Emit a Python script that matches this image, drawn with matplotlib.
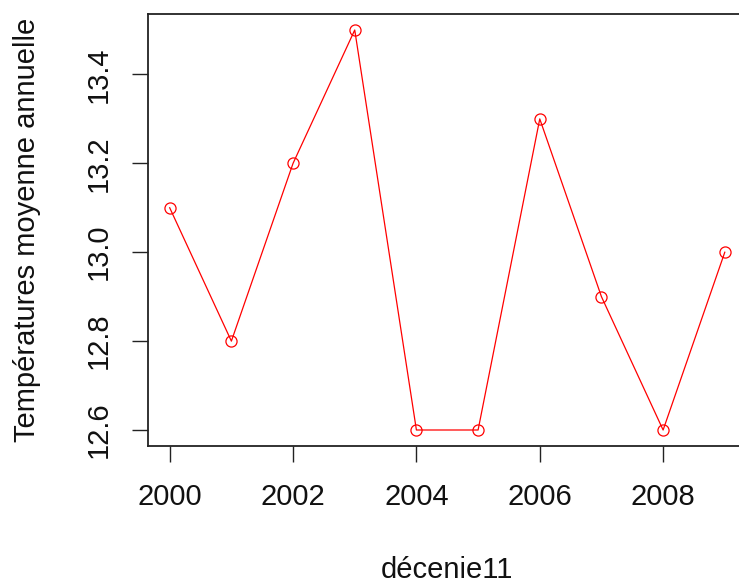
import matplotlib
matplotlib.use("Agg")
import matplotlib.pyplot as plt

years = [2000, 2001, 2002, 2003, 2004, 2005, 2006, 2007, 2008, 2009]
temps = [13.1, 12.8, 13.2, 13.5, 12.6, 12.6, 13.3, 12.9, 12.6, 13.0]
xticks = [2000, 2002, 2004, 2006, 2008]
yticks = [12.6, 12.8, 13.0, 13.2, 13.4]
xlabel = "décenie11"
ylabel = "Températures moyenne annuelle"

plt.rcParams['font.family'] = ['Liberation Sans', 'DejaVu Sans']
W, H = 739, 584
fig = plt.figure(figsize=(W/100, H/100), dpi=100)
left, right, top, bottom = 147.5, 747, 14, 446
ax = fig.add_axes([left/W, 1-bottom/H, (right-left)/W, (bottom-top)/H])

ax.plot(years, temps, color='red', lw=0.9, marker='o', markersize=8,
        markerfacecolor='none', markeredgecolor='red', markeredgewidth=0.9)

xr = max(years) - min(years)
yr = max(temps) - min(temps)
ax.set_xlim(min(years) - 0.04*xr, max(years) + 0.04*xr)
ax.set_ylim(min(temps) - 0.04*yr, max(temps) + 0.04*yr)
ax.set_xticks(xticks)
ax.set_yticks(yticks)
ax.set_xticklabels([str(v) for v in xticks])
ax.set_yticklabels([f"{v:.1f}" for v in yticks])
for s in ax.spines.values():
    s.set_color('#222222')
    s.set_linewidth(1.3)
fs = 21
ax.tick_params(axis='both', length=11.5, width=1.0, color='#222222',
               labelsize=fs, labelcolor='#111111')
ax.tick_params(axis='x', pad=14.8)
ax.tick_params(axis='y', pad=13.7)
for lab in ax.get_yticklabels():
    lab.set_rotation(90)
    lab.set_va('center')

ax.set_xlabel(xlabel, fontsize=fs, color='#111111')
ax.xaxis.set_label_coords(0.5, -(570-bottom)/(bottom-top))
ax.xaxis.label.set_va('center')
ax.set_ylabel(ylabel, fontsize=fs, color='#111111')
ax.yaxis.set_label_coords(-(left-27)/(right-left), 0.5)
ax.yaxis.label.set_va('center')
ax.yaxis.label.set_ha('center')

fig.savefig("out.png", dpi=100)
